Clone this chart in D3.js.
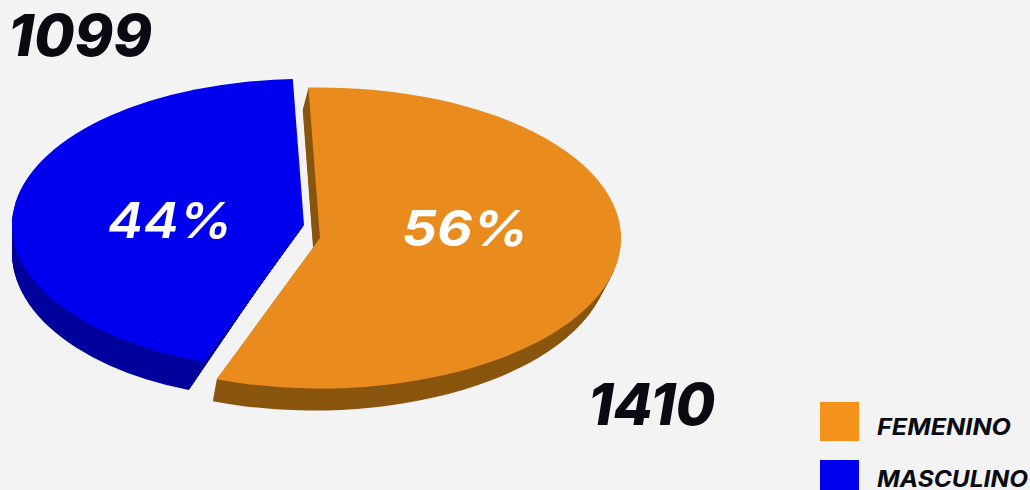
<!DOCTYPE html>
<html lang="es">
    <head>
        <meta charset="utf-8">
        <title>Femenino / Masculino</title>
        <script src="https://cdn.jsdelivr.net/npm/d3@7"></script>
        <style>
            html, body { margin: 0; padding: 0; background: #f3f3f3; overflow: hidden; }
            text { font-family: Inter, "Open Sans", sans-serif; font-style: italic; }
        </style>
    </head>
    <body>
        <script>
            // values
            var categories = ["FEMENINO", "MASCULINO"];
            var counts = [1410, 1099];

            var w = 1030;
            var h = 490;
            var tilt = 0.5; // squash of the pie to fake the 3d look

            var topColor = d3.scaleOrdinal().domain(categories).range(["#ea8b1e", "#0000ee"]);
            var sideColor = d3.scaleOrdinal().domain(categories).range(["#8a560f", "#00009c"]);

            // one placement per slice, the slices are pulled apart
            // depth/shift/shrink = how the underside sits below the top (a bit smaller, perspective)
            var place = d3.scaleOrdinal().domain(categories).range([
                { cx: 320, cy: 238, r: 301, depth: 22, shift: -6, shrink: 0.98, lx: 465, ly: 246, lw: 126, lweight: 700, tx: 588, ty: 425, tw: 127 },
                { cx: 304, cy: 225, r: 292, depth: 28, shift: -22.5, shrink: 0.923, lx: 170, ly: 238, lw: 125, lweight: 600, tx: 8, ty: 56, tw: 144 }
            ]);

            var total = d3.sum(counts);
            var pct = d3.format(".0%");

            var pie = d3.pie().sort(null).startAngle(-2.2 * Math.PI / 180).endAngle(357.8 * Math.PI / 180);
            var arcs = pie(counts).map(function(d, i) { d.name = categories[i]; return d; });

            var arc = d3.arc().innerRadius(0).outerRadius(function(d) { return place(d.name).r; });

            var svg = d3.select("body").append("svg").attr("width", w).attr("height", h);

            // side wall: the slice repeated a step at a time under its top
            arcs.forEach(function(d) {
                var p = place(d.name);
                var wall = svg.append("g");
                d3.range(p.depth, 0, -1).forEach(function(s) {
                    var t = s / p.depth;
                    wall.append("path")
                        .attr("d", arc(d))
                        .attr("fill", sideColor(d.name))
                        .attr("transform", "translate(" + (p.cx + p.shift * t) + "," + (p.cy + s) + ") scale(" + (1 - (1 - p.shrink) * t) + "," + tilt + ")");
                });
            });

            svg.selectAll("path.top")
                .data(arcs)
                .enter()
                .append("path")
                .attr("class", "top")
                .attr("d", arc)
                .attr("fill", function(d) { return topColor(d.name); })
                .attr("transform", function(d) {
                    var p = place(d.name);
                    return "translate(" + p.cx + "," + p.cy + ") scale(1," + tilt + ")";
                });

            // percentages on the slices
            svg.selectAll("text.pct")
                .data(arcs)
                .enter()
                .append("text")
                .attr("class", "pct")
                .attr("x", function(d) { return place(d.name).lx; })
                .attr("y", function(d) { return place(d.name).ly; })
                .attr("text-anchor", "middle")
                .attr("font-size", "50px")
                .attr("font-weight", function(d) { return place(d.name).lweight; })
                .attr("fill", "white")
                .attr("textLength", function(d) { return place(d.name).lw; })
                .attr("lengthAdjust", "spacingAndGlyphs")
                .text(function(d) { return pct(d.value / total); });

            // totals
            svg.selectAll("text.count")
                .data(arcs)
                .enter()
                .append("text")
                .attr("class", "count")
                .attr("x", function(d) { return place(d.name).tx; })
                .attr("y", function(d) { return place(d.name).ty; })
                .attr("font-size", "58px")
                .attr("font-weight", 800)
                .attr("fill", "#0a0a12")
                .attr("textLength", function(d) { return place(d.name).tw; })
                .attr("lengthAdjust", "spacingAndGlyphs")
                .text(function(d) { return d.value; });

            // legend
            var legendY = d3.scalePoint().domain(categories).range([402, 460]);
            var legendBase = d3.scalePoint().domain(categories).range([435, 487]);
            var legendW = d3.scaleOrdinal().domain(categories).range([134, 151]);

            svg.selectAll("rect.legend")
                .data(categories)
                .enter()
                .append("rect")
                .attr("class", "legend")
                .attr("x", 820)
                .attr("y", function(d) { return legendY(d); })
                .attr("width", 39)
                .attr("height", 39)
                .attr("fill", function(d) { return d == "FEMENINO" ? "#f4921c" : "#0000ee"; });
            svg.selectAll("text.legend")
                .data(categories)
                .enter()
                .append("text")
                .attr("class", "legend")
                .attr("x", 877)
                .attr("y", function(d) { return legendBase(d); })
                .attr("font-size", "23px")
                .attr("font-weight", 700)
                .attr("fill", "#0a0a12")
                .attr("textLength", function(d) { return legendW(d); })
                .attr("lengthAdjust", "spacingAndGlyphs")
                .text(function(d) { return d; });
        </script>
    </body>
</html>
